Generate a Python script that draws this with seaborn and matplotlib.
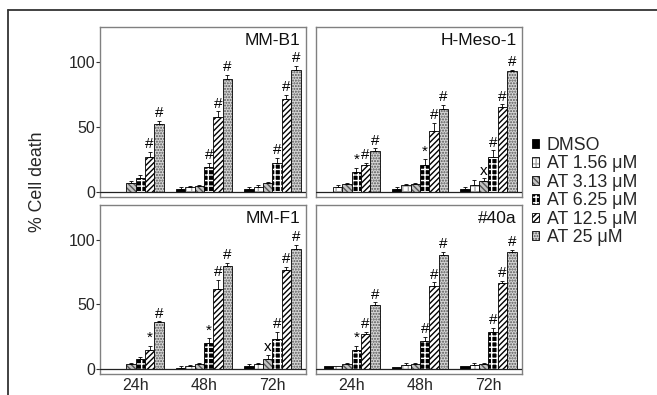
import numpy as np
import pandas as pd
import matplotlib
matplotlib.use("Agg")
import matplotlib.pyplot as plt
import matplotlib.colors as mcolors
from matplotlib.patches import Patch
from matplotlib.lines import Line2D
from matplotlib.container import BarContainer
import seaborn as sns

# ---------------- data ----------------
times = ["24h", "48h", "72h"]
conditions = ["DMSO", "AT 1.56 μM", "AT 3.13 μM", "AT 6.25 μM", "AT 12.5 μM", "AT 25 μM"]
panels = ["MM-B1", "H-Meso-1", "MM-F1", "#40a"]

# values[panel] -> rows = conditions, cols = times
mmb1 = [[0.0, 2.5, 2.5],
        [0.0, 3.5, 3.5],
        [6.5, 4.5, 6.5],
        [11.0, 19.5, 22.5],
        [27.0, 58.0, 71.5],
        [52.0, 87.0, 94.0]]
hmeso1 = [[0.0, 2.5, 2.5],
          [4.0, 5.0, 5.0],
          [6.0, 6.0, 8.5],
          [15.5, 21.0, 27.0],
          [20.5, 47.0, 65.5],
          [31.5, 64.0, 93.0]]
mmf1 = [[0.0, 1.0, 2.5],
        [0.0, 2.0, 4.0],
        [3.5, 3.5, 8.0],
        [7.5, 20.0, 23.0],
        [15.0, 62.0, 77.0],
        [36.0, 80.0, 93.0]]
h40a = [[2.5, 1.3, 2.5],
        [2.5, 3.3, 3.3],
        [4.0, 4.0, 4.0],
        [15.0, 22.0, 29.0],
        [27.0, 64.0, 66.5],
        [49.5, 88.5, 90.5]]

err_mmb1 = [[0, 1, 1], [0, 1, 2], [2, 1, 1], [2, 3, 4], [4, 4, 3], [3, 3, 3]]
err_hmeso1 = [[0, 1, 1], [1, 1, 4], [1, 1, 2], [3, 4, 5], [2, 6, 2], [2, 3, 1]]
err_mmf1 = [[0, 1, 1], [0, 1, 1], [1, 1, 3], [2, 4, 6], [3, 7, 2], [1, 2, 3]]
err_h40a = [[0, 0, 0], [0, 1, 1], [1, 1, 1], [3, 3, 3], [2, 3, 2], [2, 2, 2]]

marks_mmb1 = [["", "", ""], ["", "", ""], ["", "", ""],
              ["", "#", "#"], ["#", "#", "#"], ["#", "#", "#"]]
marks_hmeso1 = [["", "", ""], ["", "", ""], ["", "", "x"],
                ["*", "*", "#"], ["#", "#", "#"], ["#", "#", "#"]]
marks_mmf1 = [["", "", ""], ["", "", ""], ["", "", "x"],
              ["", "*", "#"], ["*", "#", "#"], ["#", "#", "#"]]
marks_h40a = [["", "", ""], ["", "", ""], ["", "", ""],
              ["*", "#", "#"], ["#", "#", "#"], ["#", "#", "#"]]

values = [mmb1, hmeso1, mmf1, h40a]
errors = [err_mmb1, err_hmeso1, err_mmf1, err_h40a]
marks = [marks_mmb1, marks_hmeso1, marks_mmf1, marks_h40a]
yticks = [0, 50, 100]

# ---------------- styles ----------------
face = ["black", "white", "#c4c4c4", "black", "white", "#d6d6d6"]
hatch = [None, "+++", "\\\\\\\\\\\\", "+++", "//////", "......"]
hcol = ["black", "#a8a8a8", "#555555", "white", "black", "#555555"]

sns.set_theme(style="white")
plt.rcParams["font.family"] = ["Liberation Sans", "DejaVu Sans"]
plt.rcParams["hatch.linewidth"] = 1.0

fig = plt.figure(figsize=(6.57, 3.95), dpi=100)
W, H = 657.0, 395.0

boxes = [(100, 27, 206, 170), (316, 27, 206, 170),
         (100, 205, 206, 169), (316, 205, 206, 169)]

def style_patch(p, k):
    p.set_facecolor(face[k])
    p.set_edgecolor("black")
    p.set_linewidth(0.6)
    if hatch[k]:
        p.set_hatch(hatch[k])
    p._hatch_color = mcolors.to_rgba(hcol[k])

for pi, name in enumerate(panels):
    x0, y0, w, h = boxes[pi]
    ax = fig.add_axes([x0 / W, 1 - (y0 + h) / H, w / W, h / H])
    rows = []
    for ci, c in enumerate(conditions):
        for ti, t in enumerate(times):
            rows.append({"time": t, "condition": c, "value": values[pi][ci][ti]})
    df = pd.DataFrame(rows)
    sns.barplot(data=df, x="time", y="value", hue="condition", order=times,
                hue_order=conditions, ax=ax, width=0.82, errorbar=None,
                legend=False, saturation=1, palette=face, edgecolor="black",
                linewidth=0.6)
    bar_conts = [c for c in ax.containers if isinstance(c, BarContainer)]
    for ci, cont in enumerate(bar_conts):
        bars = sorted(cont.patches, key=lambda b: b.get_x())
        for ti, b in enumerate(bars):
            style_patch(b, ci)
            xc = b.get_x() + b.get_width() / 2
            hv = b.get_height()
            e = errors[pi][ci][ti]
            if e > 0:
                ax.errorbar([xc], [hv], yerr=[[0], [e]], fmt="none",
                            ecolor="black", elinewidth=0.6, capsize=1.2,
                            capthick=0.6, zorder=3)
            m = marks[pi][ci][ti]
            if m:
                ax.annotate(m, (xc, hv + e), xytext=(0, 0.5),
                            textcoords="offset points", ha="center",
                            va="bottom", fontsize=11, color="black",
                            zorder=4)
    ax.axhline(0, color="#222222", lw=0.9, zorder=5)
    ax.set_ylim(-3.9, 127)
    ax.set_xlim(-0.52, 2.49)
    ax.set_xlabel("")
    ax.set_ylabel("")
    for s in ax.spines.values():
        s.set_color("#808080")
        s.set_linewidth(1.0)
    if pi in (0, 2):
        ax.set_yticks(yticks)
        ax.set_yticklabels([str(v) for v in yticks], fontsize=11.5)
        ax.tick_params(axis="y", left=True, length=3, width=0.8,
                       color="#333333", pad=0.5)
    else:
        ax.set_yticks([])
    if pi in (2, 3):
        ax.tick_params(axis="x", bottom=False, length=0, pad=3,
                       labelsize=11.5)
    else:
        ax.set_xticks([])
    ax.text(0.975, 0.965, name, transform=ax.transAxes, ha="right",
            va="top", fontsize=12.5, color="#111111")

fig.text(38 / W, 1 - 182 / H, "% Cell death", rotation=90, ha="center",
         va="center", fontsize=12.8)

handles = []
for k, c in enumerate(conditions):
    p = Patch(facecolor=face[k], edgecolor="black", linewidth=0.6,
              hatch=hatch[k], label=c)
    p._hatch_color = mcolors.to_rgba(hcol[k])
    handles.append(p)
fig.legend(handles=handles, loc="upper left",
           bbox_to_anchor=(532 / W, 1 - 137 / H), frameon=False,
           fontsize=12.8, handlelength=0.42, handleheight=0.42,
           handletextpad=0.4, labelspacing=0.08, borderpad=0,
           borderaxespad=0)

# outer frame (top and left edges)
fig.add_artist(Line2D([8 / W, 1.0], [1 - 10 / H, 1 - 10 / H],
                      transform=fig.transFigure, color="#333333", lw=1.3))
fig.add_artist(Line2D([8 / W, 8 / W], [0, 1 - 10 / H],
                      transform=fig.transFigure, color="#333333", lw=1.3))

fig.savefig("out.png", dpi=100)
